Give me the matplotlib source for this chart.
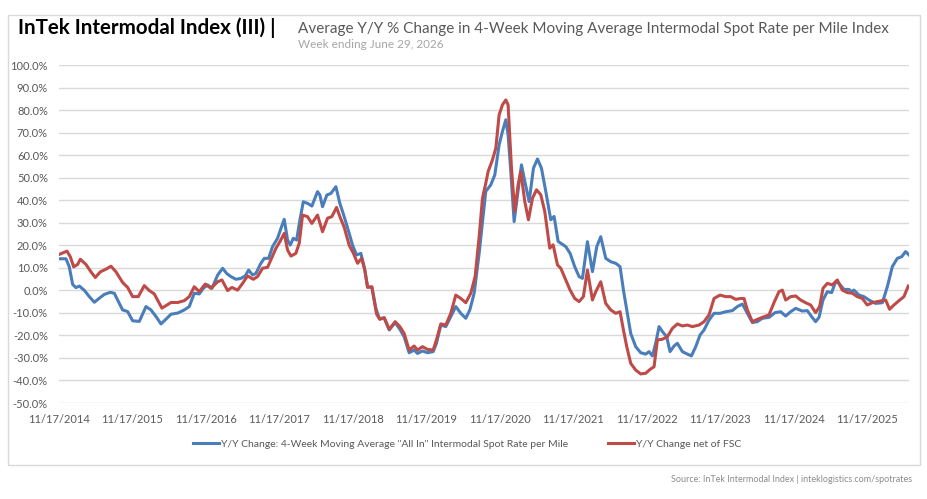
import matplotlib
matplotlib.use("Agg")
import matplotlib.pyplot as plt
import matplotlib.patches as mpatches
import pandas as pd
import numpy as np

plt.rcParams['font.family'] = ['Lato', 'DejaVu Sans']

# Years elapsed since 11/17/2014 and Y/Y % change, "All In" series
blue_t = [0.0, 0.095, 0.14, 0.186, 0.231, 0.277, 0.345, 0.413, 0.481, 0.549, 0.617, 0.698, 0.753, 0.798,
          0.866, 0.934, 1.002, 1.093, 1.184, 1.252, 1.320, 1.388, 1.456, 1.524, 1.615, 1.705, 1.773, 1.841,
          1.909, 1.964, 2.023, 2.082, 2.16, 2.227, 2.282, 2.34, 2.408, 2.476, 2.535, 2.581, 2.635, 2.68,
          2.748, 2.794, 2.853, 2.907, 2.975, 3.021, 3.066, 3.111, 3.148, 3.189, 3.234, 3.279, 3.325, 3.383,
          3.442, 3.519, 3.551, 3.587, 3.646, 3.701, 3.769, 3.823, 3.882, 3.95, 3.995, 4.05, 4.109, 4.154,
          4.2, 4.259, 4.313, 4.359, 4.427, 4.495, 4.576, 4.64, 4.698, 4.766, 4.834, 4.88, 4.948, 5.016,
          5.093, 5.138, 5.197, 5.265, 5.333, 5.401, 5.469, 5.537, 5.592, 5.651, 5.719, 5.809, 5.877, 5.932,
          5.991, 6.036, 6.082, 6.113, 6.15, 6.195, 6.241, 6.295, 6.341, 6.399, 6.458, 6.513, 6.567, 6.626,
          6.694, 6.739, 6.794, 6.83, 6.898, 6.957, 7.02, 7.079, 7.125, 7.193, 7.261, 7.32, 7.374, 7.442,
          7.51, 7.578, 7.637, 7.683, 7.728, 7.782, 7.85, 7.918, 7.986, 8.032, 8.077, 8.122, 8.168, 8.213,
          8.272, 8.317, 8.372, 8.417, 8.485, 8.553, 8.608, 8.667, 8.726, 8.78, 8.848, 8.916, 8.998, 9.075,
          9.166, 9.234, 9.302, 9.37, 9.438, 9.506, 9.574, 9.665, 9.746, 9.823, 9.891, 9.959, 10.027, 10.118,
          10.186, 10.245, 10.299, 10.345, 10.399, 10.458, 10.517, 10.571, 10.617, 10.685, 10.753, 10.789,
          10.82, 10.889, 10.957, 11.025, 11.116, 11.207, 11.275, 11.343, 11.411, 11.47, 11.524, 11.57]
blue_v = [14.0, 14.0, 10.4, 2.6, 1.2, 1.9, 0.0, -2.8, -5.3, -3.5, -1.8, -0.9, -1.3, -4.3,
          -8.7, -9.4, -13.5, -13.8, -7.2, -8.7, -11.6, -14.9, -12.8, -10.6, -10.1, -8.7, -7.2, -1.3,
          -1.6, 0.9, 2.4, 0.9, 6.8, 9.8, 7.5, 6.1, 4.9, 5.3, 6.4, 9.0, 6.8, 7.5,
          12.0, 14.2, 14.2, 19.4, 23.1, 27.5, 31.5, 22.3, 20.1, 23.1, 22.3, 31.2, 39.3, 38.6,
          37.4, 43.8, 42.3, 37.1, 42.3, 43.0, 46.0, 38.6, 32.7, 25.3, 20.1, 15.7, 16.4, 10.5,
          1.6, 1.3, -8.0, -12.4, -12.4, -17.6, -14.3, -17.3, -20.6, -27.7, -26.5, -28.0, -26.9, -27.7,
          -27.2, -23.5, -15.4, -16.1, -11.7, -7.2, -10.2, -12.4, -8.7, -1.3, 16.4, 43.9, 46.8, 51.2,
          64.6, 70.5, 75.7, 69.0, 52.7, 30.5, 42.3, 55.7, 48.3, 39.4, 54.2, 58.3, 54.2, 43.9,
          31.3, 32.8, 21.7, 20.9, 19.4, 16.4, 10.5, 6.1, 5.3, 21.6, 8.3, 19.4, 23.8, 14.2,
          12.7, 12.0, 10.5, 0.1, -8.7, -19.1, -25.0, -27.7, -28.3, -27.2, -29.1, -23.5, -16.1, -18.3,
          -20.6, -27.2, -24.7, -23.5, -27.2, -28.3, -29.1, -25.0, -19.8, -17.6, -13.2, -10.2, -10.2, -9.5,
          -9.0, -7.2, -6.1, -10.2, -14.3, -13.9, -12.4, -12.0, -9.9, -9.5, -11.4, -9.5, -8.0, -9.2,
          -9.0, -11.7, -13.9, -12.0, -4.3, -0.6, -1.0, 3.8, 3.1, 0.4, 0.4, -0.6,
          0.1, -2.1, -2.8, -4.3, -5.8, -5.5, 1.6, 10.5, 14.2, 14.9, 17.2, 15.7]

# Years elapsed since 11/17/2014 and Y/Y % change, net of FSC
red_t = [0.0, 0.109, 0.154, 0.2, 0.254, 0.29, 0.367, 0.435, 0.494, 0.562, 0.639, 0.707, 0.776, 0.866,
         0.934, 1.002, 1.079, 1.161, 1.229, 1.297, 1.342, 1.401, 1.456, 1.524, 1.615, 1.705, 1.773, 1.841,
         1.909, 1.991, 2.068, 2.16, 2.218, 2.295, 2.354, 2.431, 2.499, 2.567, 2.644, 2.703, 2.771, 2.839,
         2.898, 2.952, 3.007, 3.066, 3.111, 3.157, 3.224, 3.27, 3.315, 3.383, 3.442, 3.519, 3.587, 3.655,
         3.714, 3.778, 3.823, 3.882, 3.95, 4.004, 4.064, 4.118, 4.163, 4.2, 4.259, 4.322, 4.367, 4.427,
         4.495, 4.576, 4.64, 4.698, 4.766, 4.834, 4.88, 4.948, 5.016, 5.093, 5.138, 5.197, 5.265, 5.333,
         5.401, 5.469, 5.537, 5.605, 5.664, 5.719, 5.764, 5.809, 5.841, 5.9, 5.946, 5.991, 6.036, 6.082,
         6.113, 6.159, 6.204, 6.249, 6.286, 6.34, 6.39, 6.445, 6.5, 6.558, 6.612, 6.68, 6.726, 6.785,
         6.83, 6.898, 6.957, 7.02, 7.079, 7.138, 7.193, 7.261, 7.306, 7.374, 7.442, 7.51, 7.578, 7.637,
         7.683, 7.728, 7.782, 7.85, 7.918, 7.986, 8.045, 8.1, 8.145, 8.213, 8.281, 8.349, 8.417, 8.485,
         8.553, 8.621, 8.712, 8.78, 8.848, 8.916, 8.998, 9.075, 9.143, 9.211, 9.279, 9.324, 9.37, 9.438,
         9.506, 9.574, 9.664, 9.728, 9.8, 9.846, 9.891, 9.959, 10.027, 10.095, 10.163, 10.231, 10.299, 10.354,
         10.399, 10.458, 10.526, 10.594, 10.662, 10.73, 10.798, 10.866, 10.934, 11.002, 11.07, 11.138, 11.206, 11.252,
         11.306, 11.365, 11.433, 11.501, 11.56]
red_v = [15.9, 17.4, 14.9, 10.4, 11.5, 13.8, 11.5, 8.2, 5.7, 8.2, 9.4, 10.7, 8.2, 3.5,
         1.3, -2.8, -2.8, 2.1, -0.1, -1.6, -4.3, -7.9, -6.8, -5.4, -5.4, -4.6, -2.8, 1.6,
         -0.6, 2.8, 0.9, 3.8, 4.6, -0.1, 1.3, 0.1, 3.1, 6.4, 4.9, 6.1, 9.8, 10.2,
         14.6, 18.6, 21.6, 25.3, 17.9, 15.2, 16.4, 20.9, 33.4, 32.7, 29.7, 33.4, 26.0, 32.0,
         32.7, 36.8, 32.7, 28.0, 20.0, 16.7, 12.0, 14.2, 9.0, 1.3, 1.6, -10.5, -12.9, -12.1,
         -17.3, -13.9, -16.1, -19.1, -26.5, -24.7, -26.5, -25.0, -26.2, -26.5, -22.0, -14.9, -15.4, -10.2,
         -2.1, -3.6, -5.5, -1.3, 6.1, 23.8, 40.8, 47.5, 52.7, 57.9, 63.1, 77.9, 82.3, 84.5,
         82.3, 54.2, 35.0, 46.8, 52.7, 39.4, 31.3, 40.9, 44.6, 42.4, 35.0, 18.7, 20.2, 11.3,
         9.8, 4.6, 0.1, -3.6, -5.0, -2.8, 9.0, -4.3, -0.6, 3.8, -5.8, -8.7, -10.2, -9.5,
         -17.6, -25.0, -32.4, -35.4, -37.1, -36.8, -35.1, -33.9, -22.0, -21.7, -20.6, -16.9, -14.9, -15.8,
         -15.4, -16.1, -15.4, -13.9, -10.9, -3.6, -2.1, -2.8, -2.8, -4.0, -3.6, -3.6, -8.7, -13.9,
         -12.9, -12.0, -10.9, -5.8, -0.6, 0.1, -4.3, -2.8, -2.5, -4.3, -5.5, -6.5, -9.9, -7.2,
         0.9, 3.1, 2.4, 4.6, 0.1, -1.0, -1.3, -2.8, -3.6, -6.5, -5.5, -5.0, -4.6, -4.3,
         -8.4, -6.5, -4.6, -2.8, 1.9]

x_tick_labels = ["11/17/2014", "11/17/2015", "11/17/2016", "11/17/2017", "11/17/2018", "11/17/2019",
                 "11/17/2020", "11/17/2021", "11/17/2022", "11/17/2023", "11/17/2024", "11/17/2025"]
y_ticks = [100, 90, 80, 70, 60, 50, 40, 30, 20, 10, 0, -10, -20, -30, -40, -50]

legend_labels = ['Y/Y Change: 4-Week Moving Average "All In" Intermodal Spot Rate per Mile',
                 'Y/Y Change net of FSC']

base = pd.Timestamp("2014-11-17")
blue_dates = base + pd.to_timedelta(np.array(blue_t) * 365.25, unit="D")
red_dates = base + pd.to_timedelta(np.array(red_t) * 365.25, unit="D")
tick_dates = pd.to_datetime(x_tick_labels, format="%m/%d/%Y")

BLUE = "#4a7ebb"
RED = "#be4b48"
GRAY_TXT = "#595959"

fig = plt.figure(figsize=(9.28, 4.99), dpi=100)
fig.patch.set_facecolor("white")

# outer border
fig.add_artist(mpatches.Rectangle((8 / 928, 1 - 465 / 499), 912 / 928, 450 / 499,
                                  transform=fig.transFigure, fill=False,
                                  edgecolor="#d9d9d9", linewidth=1.0))

ax = fig.add_axes([59 / 928, 1 - 403 / 499, 850 / 928, 338 / 499])
ax.plot(blue_dates, blue_v, color=BLUE, lw=2.2, label=legend_labels[0], solid_joinstyle="round")
ax.plot(red_dates, red_v, color=RED, lw=2.2, label=legend_labels[1], solid_joinstyle="round")

ax.set_ylim(-50, 100)
ax.set_xlim(base, base + pd.Timedelta(days=11.57 * 365.25))
ax.set_yticks(y_ticks)
ax.set_yticklabels([f"{v:.1f}%" for v in y_ticks])
ax.set_xticks(tick_dates)
ax.set_xticklabels(x_tick_labels)
ax.grid(axis="y", color="#d9d9d9", lw=1.0)
ax.set_axisbelow(True)
for s in ax.spines.values():
    s.set_visible(False)
ax.tick_params(length=0, labelsize=8, colors=GRAY_TXT)
ax.tick_params(axis="y", pad=8)
ax.tick_params(axis="x", pad=8)

fig.text(18 / 928, 1 - 28 / 499, "InTek Intermodal Index (III) |", fontsize=14.8,
         fontweight="bold", color="black", va="center", ha="left")
fig.text(298 / 928, 1 - 29 / 499,
         "Average Y/Y % Change in 4-Week Moving Average Intermodal Spot Rate per Mile Index",
         fontsize=11.0, color=GRAY_TXT, va="center", ha="left")
fig.text(298 / 928, 1 - 45 / 499, "Week ending June 29, 2026", fontsize=8.5,
         color="#a6a6a6", va="center", ha="left")

fig.legend(loc="center", bbox_to_anchor=(467 / 928, 1 - 444 / 499), ncol=2, frameon=False,
           fontsize=7.5, handlelength=2.5, columnspacing=3.8, handletextpad=0.2,
           labelcolor=GRAY_TXT)

fig.text(912 / 928, 1 - 480 / 499,
         "Source: InTek Intermodal Index | inteklogistics.com/spotrates",
         fontsize=6.5, color="#8c8c8c", ha="right", va="center")

fig.savefig("out.png", dpi=100, facecolor="white")
